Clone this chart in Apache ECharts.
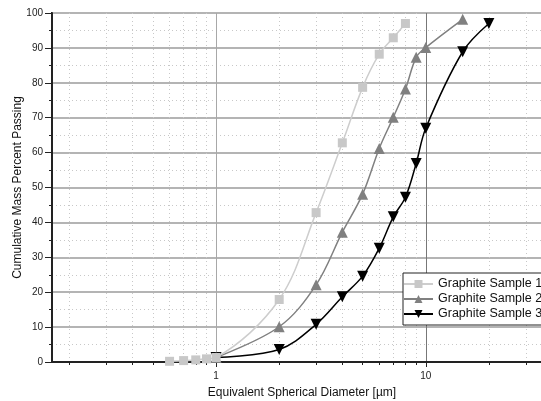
<!DOCTYPE html>
<html><head><meta charset="utf-8">
<script src="https://cdn.jsdelivr.net/npm/echarts@6/dist/echarts.min.js"></script>
<style>html,body{margin:0;padding:0;background:#fff}#c{width:541px;height:401px}</style>
</head><body><div id="c"></div><script>
const seriesNames = ['Graphite Sample 1', 'Graphite Sample 2', 'Graphite Sample 3'];
const diameters1 = [0.6, 0.7, 0.8, 0.9, 1, 2, 3, 4, 5, 6, 7, 8];
const sample1 = [0.2, 0.4, 0.6, 0.9, 1.3, 17.9, 42.8, 62.8, 78.7, 88.2, 92.9, 97.0];
const diameters2 = [1, 2, 3, 4, 5, 6, 7, 8, 9, 10, 15];
const sample2 = [1.3, 10.1, 22.1, 37.2, 48.1, 61.2, 70.1, 78.2, 87.3, 90.1, 98.2];
const diameters3 = [1, 2, 3, 4, 5, 6, 7, 8, 9, 10, 15, 20];
const sample3 = [1.3, 3.6, 10.8, 18.7, 24.6, 32.6, 41.6, 47.2, 56.9, 67.0, 88.9, 97.0];
const xMajorTicks = [1, 10];
const xMinorTicks = [0.2, 0.3, 0.4, 0.5, 0.6, 0.7, 0.8, 0.9, 2, 3, 4, 5, 6, 7, 8, 9, 20, 30];

const FONT = 'Liberation Sans, Arial, sans-serif';
const pairs = (xs, ys) => xs.map((x, i) => [x, ys[i]]);
const chart = echarts.init(document.getElementById('c'), null, {renderer: 'canvas'});
const xMin = 0.165, xMax = 40;
chart.setOption({
  animation: false,
  backgroundColor: '#fff',
  textStyle: {fontFamily: FONT},
  grid: {left: 52, top: 13, right: -11, bottom: 39, outerBoundsMode: 'none', containLabel: false,
    show: true, borderColor: '#222', borderWidth: 2, backgroundColor: 'transparent'},
  xAxis: [{
    type: 'log', min: xMin, max: xMax, position: 'bottom',
    axisLine: {lineStyle: {color: '#222', width: 2}},
    axisTick: {customValues: xMajorTicks, length: 5, lineStyle: {color: '#222', width: 1}},
    axisLabel: {customValues: xMajorTicks, fontSize: 10, color: '#222', margin: 9, fontFamily: FONT},
    splitLine: {show: true, lineStyle: {color: ['#a8a8a8', '#777'], width: 1}},
    name: 'Equivalent Spherical Diameter [µm]', nameLocation: 'middle', nameGap: 25,
    nameMoveOverlap: false,
    nameTextStyle: {fontSize: 12, color: '#111', fontFamily: FONT}
  }, {
    type: 'log', min: xMin, max: xMax, position: 'bottom',
    axisLine: {show: false},
    axisTick: {customValues: xMinorTicks, length: 3, lineStyle: {color: '#222', width: 1}},
    axisLabel: {show: false},
    splitLine: {show: true, lineStyle: {color: '#c8c8c8', width: 1, type: [1, 3]}}
  }],
  yAxis: {
    type: 'value', min: 0, max: 100, interval: 10,
    axisLine: {show: true, lineStyle: {color: '#222', width: 2}},
    axisTick: {show: true, length: 7, lineStyle: {color: '#222', width: 1}},
    minorTick: {show: true, splitNumber: 2, length: 3, lineStyle: {color: '#222', width: 1}},
    axisLabel: {fontSize: 10, color: '#222', margin: 9, fontFamily: FONT},
    splitLine: {show: true, lineStyle: {color: '#b4b4b4', width: 2}},
    minorSplitLine: {show: true, lineStyle: {color: '#c8c8c8', width: 1, type: [1, 3]}},
    name: 'Cumulative Mass Percent Passing', nameLocation: 'middle', nameGap: 28,
    nameMoveOverlap: false,
    nameTextStyle: {fontSize: 12, color: '#111', fontFamily: FONT}
  },
  legend: {
    orient: 'vertical', left: 403, top: 273,
    data: seriesNames,
    backgroundColor: '#fff', borderColor: '#222', borderWidth: 1,
    padding: [4, 10, 4, 0], itemGap: 1, itemWidth: 29, itemHeight: 10, itemTextGap: 4,
    textStyle: {fontSize: 12.5, color: '#111', fontFamily: FONT, lineHeight: 14}
  },
  series: [{
    name: seriesNames[0], type: 'line', smooth: 0.35, z: 5,
    data: pairs(diameters1, sample1),
    symbol: 'rect', symbolSize: 9,
    itemStyle: {color: '#c8c8c8'}, lineStyle: {color: '#cdcdcd', width: 1.5}
  }, {
    name: seriesNames[1], type: 'line', smooth: 0.35, z: 4,
    data: pairs(diameters2, sample2),
    symbol: 'triangle', symbolSize: 11,
    itemStyle: {color: '#808080'}, lineStyle: {color: '#808080', width: 1.5}
  }, {
    name: seriesNames[2], type: 'line', smooth: 0.35, z: 3,
    data: pairs(diameters3, sample3),
    symbol: 'triangle', symbolSize: 11, symbolRotate: 180,
    itemStyle: {color: '#000'}, lineStyle: {color: '#000', width: 1.5}
  }]
});
</script></body></html>
